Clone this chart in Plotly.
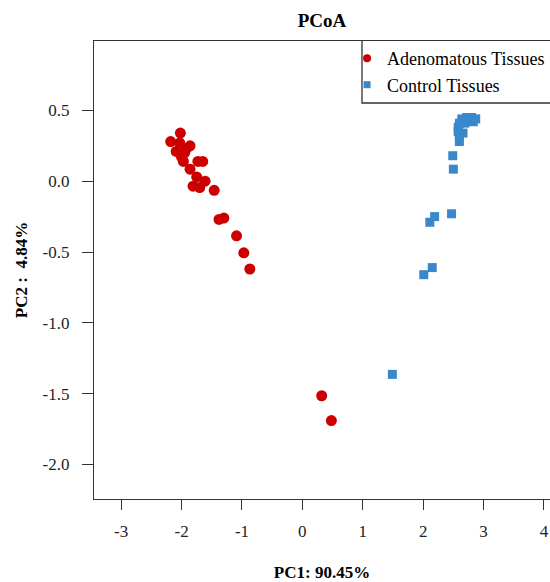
import plotly.graph_objects as go

# Adenomatous Tissues (red circles)
aden_x = [-2.02, -2.18, -2.03, -1.86, -2.09, -1.95, -1.97, -1.73, -1.65, -1.86,
          -1.75, -1.61, -1.81, -1.70, -1.46, -1.38, -1.30, -1.09, -0.97, -0.87,
          -1.92, -2.00, 0.32, 0.48]
aden_y = [0.34, 0.28, 0.27, 0.25, 0.21, 0.20, 0.14, 0.14, 0.14, 0.085,
          0.03, 0.00, -0.035, -0.045, -0.064, -0.27, -0.26, -0.386, -0.506, -0.62,
          0.23, 0.17, -1.515, -1.69]

# Control Tissues (blue squares)
ctrl_x = [2.64, 2.72, 2.80, 2.87, 2.60, 2.69, 2.83, 2.58, 2.58, 2.66,
          2.60, 2.60, 2.49, 2.50, 2.47, 2.19, 2.11, 2.15, 2.01, 1.49]
ctrl_y = [0.44, 0.45, 0.45, 0.44, 0.41, 0.41, 0.42, 0.38, 0.35, 0.34,
          0.31, 0.28, 0.18, 0.085, -0.23, -0.25, -0.29, -0.61, -0.66, -1.364]

series_names = ["Adenomatous Tissues", "Control Tissues"]
x_ticks = [-3, -2, -1, 0, 1, 2, 3, 4]
y_ticks = [0.5, 0.0, -0.5, -1.0, -1.5, -2.0]

RED = "#cc0000"
BLUE = "#3a88cc"
FONT = "Liberation Serif"

fig = go.Figure()
fig.add_trace(go.Scatter(x=aden_x, y=aden_y, mode="markers", name=series_names[0],
                         showlegend=False, legendgroup="a",
                         marker=dict(symbol="circle", size=11, color=RED)))
fig.add_trace(go.Scatter(x=ctrl_x, y=ctrl_y, mode="markers", name=series_names[1],
                         showlegend=False, legendgroup="c",
                         marker=dict(symbol="square", size=9, color=BLUE)))
# legend entries (smaller symbols, as in the reference legend)
fig.add_trace(go.Scatter(x=[None], y=[None], mode="markers", name=series_names[0],
                         legendgroup="a", marker=dict(symbol="circle", size=8, color=RED)))
fig.add_trace(go.Scatter(x=[None], y=[None], mode="markers", name=series_names[1],
                         legendgroup="c", marker=dict(symbol="square", size=7, color=BLUE)))

fig.update_layout(
    width=550, height=582,
    margin=dict(l=94, r=0, t=41, b=83, autoexpand=False),
    paper_bgcolor="white", plot_bgcolor="white",
    font=dict(family=FONT, size=17, color="black"),
    title=dict(text="<b>PCoA</b>", x=0.5, xref="paper", xanchor="center",
               y=1 - 20 / 582, yanchor="middle", yref="container",
               font=dict(family=FONT, size=19, color="black")),
    showlegend=True,
    legend=dict(x=0.555, y=1.002, xanchor="left", yanchor="top",
                bgcolor="rgba(0,0,0,0)", borderwidth=0,
                font=dict(family=FONT, size=18, color="black"),
                itemsizing="trace", tracegroupgap=0),
    shapes=[dict(type="path", xref="paper", yref="paper",
                 path="M 1.3,0.8646 L 0.5877,0.8646 L 0.5877,1.0",
                 line=dict(color="#333333", width=1.3))],
)

fig.update_xaxes(range=[-3.45, 4.10], tickvals=x_ticks, ticktext=[str(v) for v in x_ticks],
                 automargin=False,
                 showgrid=False, zeroline=False, showline=True, linecolor="#333333", linewidth=1.3,
                 mirror=True, ticks="outside", ticklen=10, tickcolor="#333333", tickwidth=1,
                 ticklabelstandoff=6, tickfont=dict(family=FONT, size=17, color="#222222"),
                 title=dict(text="<b>PC1: 90.45%</b>", standoff=28,
                            font=dict(family=FONT, size=17, color="black")))
fig.update_yaxes(range=[-2.244, 0.99], tickvals=y_ticks, ticktext=[f"{v:.1f}" for v in y_ticks],
                 automargin=False,
                 showgrid=False, zeroline=False, showline=True, linecolor="#333333", linewidth=1.3,
                 mirror=False, ticks="outside", ticklen=11, tickcolor="#333333", tickwidth=1,
                 ticklabelstandoff=9, tickfont=dict(family=FONT, size=17, color="#222222"),
                 title=dict(text="<b>PC2 :  4.84%</b>", standoff=10,
                            font=dict(family=FONT, size=17, color="black")))

fig.write_html("out.html", config={"displayModeBar": False},
               post_script="document.body.style.margin='0px';document.body.style.overflow='hidden';")
